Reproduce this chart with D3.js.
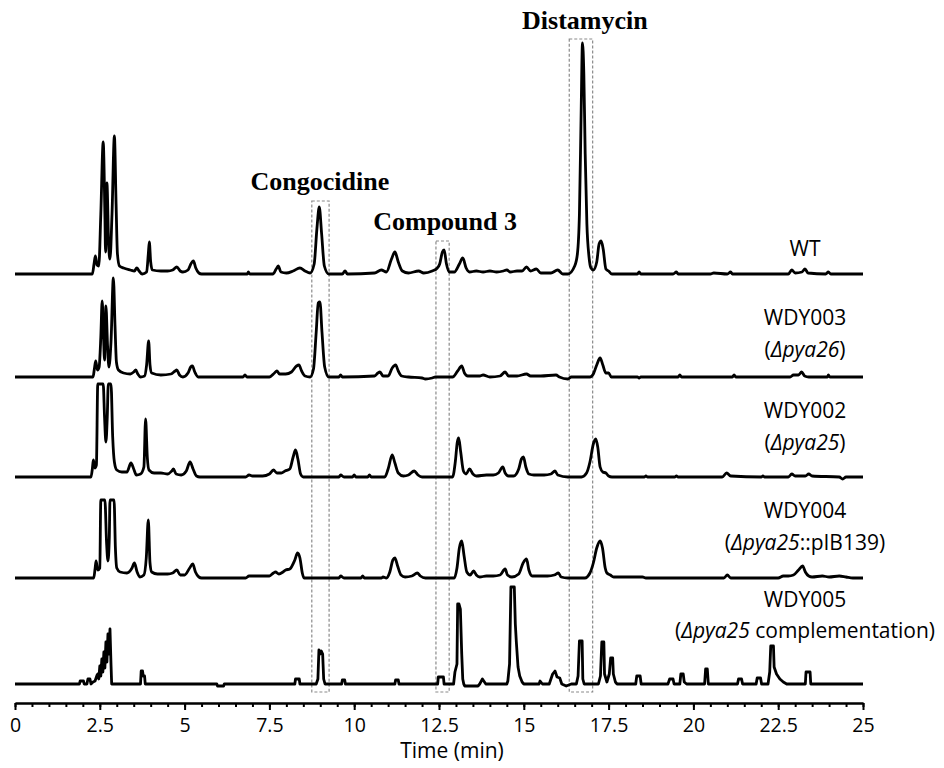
<!DOCTYPE html>
<html>
<head>
<meta charset="utf-8">
<script src="https://cdn.jsdelivr.net/npm/d3@7/dist/d3.min.js"></script>
<style>
  body { margin: 0; background: #fff; }
</style>
</head>
<body>
<script>

// ---- data ----

// time axis (min)
var xTickValues = [0, 2.5, 5, 7.5, 10, 12.5, 15, 17.5, 20, 22.5, 25];
var xTickLabels = ["0", "2.5", "5", "7.5", "10", "12.5", "15", "17.5", "20", "22.5", "25"];
var xMinorStep = 0.5;

// strain names, second line is [text, italic] parts
var traceNames = ["WT", "WDY003", "WDY002", "WDY004", "WDY005"];
var traceNotes = [
  [],
  [["(", false], ["\u0394pya26", true], [")", false]],
  [["(", false], ["\u0394pya25", true], [")", false]],
  [["(", false], ["\u0394pya25", true], ["::pIB139)", false]],
  [["(", false], ["\u0394pya25", true], [" complementation)", false]]
];

// [time (min), intensity (a.u.)]
var wtTrace = [[0,0],[2.28,0],[2.33,10],[2.37,18],[2.42,9],[2.47,8],[2.53,60],[2.60,132],[2.65,60],[2.67,22],[2.71,91],
  [2.76,30],[2.80,15],[2.86,60],[2.93,138],[2.98,70],[3.02,20],[3.08,8],[3.2,6],[3.4,4],[3.52,3],[3.59,6],[3.66,3],[3.75,0],
  [3.88,2],[3.93,20],[3.96,32],[4.0,12],[4.05,4],[4.3,3],[4.5,3],[4.65,4],[4.77,7],[4.87,3],[4.95,2],[5.1,4],[5.2,11],[5.26,13],
  [5.33,6],[5.42,1],[5.5,0],[6.85,0],[6.88,2],[6.92,0],[7.6,0],[7.7,5],[7.76,8],[7.84,2],[8.0,1],[8.2,3],[8.4,6],[8.55,3],[8.7,1],
  [8.82,10],[8.9,45],[8.97,67],[9.04,40],[9.12,8],[9.25,0],[9.65,0],[9.73,3],[9.8,0],[10.6,1],[10.8,4],[10.95,2],[11.1,15],
  [11.2,22],[11.3,12],[11.42,3],[11.6,1],[11.9,3],[12.05,1],[12.3,3],[12.45,6],[12.52,10],[12.6,22],[12.65,24],[12.72,10],
  [12.8,2],[12.95,2],[13.1,10],[13.2,16],[13.3,6],[13.4,2],[13.6,3],[13.8,2],[14.0,3],[14.2,2],[14.4,3],[14.5,4],[14.6,2],
  [14.8,3],[14.95,3],[15.08,7],[15.2,3],[15.37,5],[15.5,1],[15.8,1],[16.0,4],[16.15,0],[16.3,0],[16.5,8],[16.58,20],[16.64,60],
  [16.69,160],[16.73,231],[16.77,200],[16.81,120],[16.86,50],[16.92,18],[16.98,6],[17.05,4],[17.15,12],[17.22,30],[17.28,33],
  [17.34,25],[17.42,5],[17.5,3],[17.6,0],[18.35,0],[18.4,2],[18.45,0],[19.4,0],[19.5,2],[19.55,0],[20.5,0],[20.6,1],[21.0,0],
  [21.1,2],[21.15,0],[22.8,0],[22.9,4],[23.0,1],[23.2,2],[23.29,5],[23.38,1],[23.9,0],[23.98,2],[24.05,0],[25,0]];

var wdy003Trace = [[0,0],[2.30,0],[2.34,8],[2.38,16],[2.43,7],[2.48,10],[2.53,40],[2.57,76],[2.61,40],[2.64,17],[2.68,71],
  [2.73,30],[2.77,10],[2.83,35],[2.90,99],[2.95,50],[2.99,15],[3.05,7],[3.2,4],[3.4,3],[3.5,5],[3.56,7],[3.62,3],[3.7,0],
  [3.82,1],[3.88,12],[3.94,36],[3.98,12],[4.03,4],[4.3,2],[4.6,3],[4.72,6],[4.77,7],[4.85,2],[4.95,0],[5.1,4],[5.18,10],
  [5.23,11],[5.3,5],[5.4,0],[6.72,0],[6.78,2],[6.84,0],[7.5,0],[7.65,4],[7.72,6],[7.8,3],[7.98,3],[8.15,5],[8.3,11],[8.37,12],
  [8.45,6],[8.55,1],[8.7,0],[8.8,8],[8.88,45],[8.94,74],[8.99,75],[9.05,45],[9.13,10],[9.25,0],[9.55,0],[9.6,2],[9.65,0],
  [10.6,1],[10.7,4],[10.76,5],[10.85,1],[11.0,1],[11.12,9],[11.22,12],[11.3,6],[11.4,1],[11.6,0],[12.0,-1],[12.1,-2],[12.3,-1],
  [12.4,0],[12.9,0],[13.05,6],[13.17,11],[13.25,4],[13.35,1],[13.7,1],[13.8,2],[14.0,0],[14.3,1],[14.45,5],[14.55,1],[14.8,1],
  [15.08,3],[15.2,1],[15.5,1],[15.95,2],[16.05,0],[16.3,-2],[16.4,0],[16.95,0],[17.05,3],[17.15,12],[17.25,19],[17.33,12],
  [17.42,4],[17.5,4],[17.58,0],[18.35,0],[18.4,-1],[18.45,0],[19.55,0],[19.6,2],[19.65,0],[21.15,0],[21.2,2],[21.25,0],
  [22.85,0],[22.95,2],[23.1,2],[23.19,5],[23.28,1],[23.4,0],[23.95,0],[23.98,2],[24.02,0],[25,0]];

var wdy002Trace = [[0,0],[2.24,0],[2.28,8],[2.31,17],[2.36,9],[2.40,12],[2.44,93],[2.60,93],[2.64,60],[2.68,35],[2.72,60],
  [2.75,93],[2.83,93],[2.88,40],[2.93,15],[3.0,7],[3.15,5],[3.3,5],[3.42,14],[3.5,8],[3.58,2],[3.7,3],[3.8,10],[3.85,58],
  [3.9,20],[3.95,7],[4.1,4],[4.3,4],[4.5,3],[4.62,6],[4.67,8],[4.75,3],[4.9,2],[5.05,6],[5.16,15],[5.25,8],[5.35,1],[5.45,0],
  [6.8,0],[6.9,2],[7.0,1],[7.3,1],[7.5,3],[7.62,7],[7.72,4],[7.85,4],[7.96,6],[8.1,8],[8.2,20],[8.27,27],[8.34,18],[8.42,3],
  [8.5,0],[9.55,0],[9.6,2],[9.7,0],[9.95,0],[10.0,2],[10.05,0],[10.4,0],[10.45,2],[10.5,0],[10.9,0],[11.0,8],[11.12,22],
  [11.2,14],[11.3,4],[11.45,1],[11.6,2],[11.77,6],[11.88,2],[12.0,0],[12.9,0],[12.98,15],[13.04,35],[13.08,39],[13.14,25],
  [13.22,6],[13.3,3],[13.4,8],[13.5,3],[13.6,1],[13.9,2],[14.1,2],[14.25,4],[14.38,10],[14.45,4],[14.55,1],[14.7,1],[14.85,8],
  [14.93,18],[14.99,20],[15.06,10],[15.15,3],[15.3,2],[15.6,2],[15.8,3],[15.92,6],[16.0,2],[16.3,0],[16.7,0],[16.85,4],
  [16.95,15],[17.05,33],[17.12,38],[17.18,30],[17.25,10],[17.33,5],[17.42,4],[17.5,1],[17.6,0],[18.55,0],[18.6,1],[18.65,0],
  [19.45,0],[19.5,1],[19.55,0],[20.85,0],[20.98,4],[21.1,1],[22.0,0],[22.05,1],[22.1,0],[22.8,0],[22.9,3],[23.0,1],[23.3,1],
  [23.4,3],[23.5,1],[24.3,0],[24.4,-2],[24.5,0],[25,0]];

var wdy004Trace = [[0,0],[2.32,0],[2.36,9],[2.39,17],[2.44,8],[2.50,10],[2.53,78],[2.65,78],[2.70,35],[2.74,17],[2.78,40],
  [2.80,78],[2.92,78],[2.96,30],[3.0,10],[3.1,6],[3.3,5],[3.45,10],[3.52,15],[3.6,6],[3.68,1],[3.8,3],[3.87,20],[3.93,58],
  [3.98,15],[4.03,6],[4.2,4],[4.5,4],[4.65,5],[4.77,8],[4.87,3],[5.0,3],[5.15,10],[5.24,14],[5.32,6],[5.42,1],[5.5,0],[6.8,0],
  [6.9,2],[7.3,2],[7.5,2],[7.62,5],[7.68,6],[7.78,4],[7.9,6],[7.98,8],[8.1,9],[8.25,18],[8.33,25],[8.4,20],[8.47,5],[8.52,0],
  [9.55,0],[9.6,2],[9.7,0],[10.2,0],[10.25,2],[10.3,0],[10.8,0],[10.85,1],[10.95,0],[11.05,6],[11.14,18],[11.2,20],[11.28,12],
  [11.38,3],[11.5,1],[11.7,2],[11.86,5],[11.95,2],[12.1,0],[12.95,0],[13.03,10],[13.1,30],[13.17,37],[13.24,22],[13.32,6],
  [13.42,3],[13.52,7],[13.6,3],[13.7,1],[13.9,2],[14.1,2],[14.3,3],[14.45,9],[14.52,3],[14.65,1],[14.85,4],[14.98,15],
  [15.08,19],[15.15,8],[15.25,2],[15.5,2],[15.7,2],[15.9,3],[16.02,5],[16.1,1],[16.3,0],[16.8,0],[16.95,5],[17.05,15],
  [17.15,30],[17.25,37],[17.32,30],[17.4,10],[17.45,5],[17.55,3],[17.65,1],[18.4,1],[18.5,1],[18.6,0],[20.9,0],[21.0,3],
  [21.1,0],[22.5,0],[22.65,2],[22.8,2],[22.95,3],[23.1,8],[23.22,12],[23.3,6],[23.4,2],[23.5,1],[23.8,2],[24.0,1],[24.3,2],
  [24.5,1],[24.7,0],[25,0]];

var wdy005Trace = [[0,0],[1.90,0],[1.92,3],[2.02,3],[2.04,0],[2.12,0],[2.15,5],[2.21,5],[2.24,0],[2.30,2],[2.36,3],[2.42,9],
  [2.44,10],[2.47,5],[2.50,18],[2.53,8],[2.56,25],[2.59,12],[2.62,32],[2.65,16],[2.68,42],[2.71,22],[2.74,50],[2.77,30],
  [2.80,55],[2.83,20],[2.85,0],[3.70,0],
  [3.72,13],[3.76,13],[3.78,8],[3.82,8],[3.84,0],[5.95,0],[5.97,-2],[6.15,-2],[6.17,0],[8.25,0],[8.27,5],[8.38,5],[8.40,0],
  [8.88,0],[8.93,5],[8.96,34],[9.0,30],[9.03,33],[9.07,30],[9.1,5],[9.14,0],[9.63,0],[9.65,4],[9.72,4],[9.74,0],[11.2,0],
  [11.22,4],[11.3,4],[11.32,0],[12.46,0],[12.48,7],[12.63,7],[12.65,0],[12.93,0],[12.97,12],[13.03,20],[13.05,80],[13.09,80],
  [13.13,75],[13.17,30],[13.2,5],[13.23,0],[13.26,-2],[13.65,-2],[13.7,0],[13.78,5],[13.82,3],[13.88,0],[14.5,0],[14.53,3],
  [14.58,20],[14.62,97],[14.72,97],[14.75,60],[14.78,42],[14.83,17],[14.88,8],[14.95,2],[15.0,0],[15.45,0],[15.48,3],[15.55,0],
  [15.75,0],[15.85,10],[15.92,13],[15.98,7],[16.06,6],[16.12,0],[16.25,-2],[16.4,0],[16.55,0],[16.6,8],[16.64,43],[16.72,43],
  [16.74,5],[16.78,0],[17.2,0],[17.26,8],[17.3,42],[17.36,42],[17.38,10],[17.45,2],[17.52,10],[17.56,26],[17.62,26],[17.64,10],
  [17.7,2],[17.75,0],[18.3,0],[18.33,8],[18.43,8],[18.46,0],[19.25,0],[19.3,5],[19.4,5],[19.43,0],[19.6,0],[19.63,10],[19.7,10],
  [19.73,2],[19.8,0],[20.33,0],[20.36,15],[20.41,15],[20.44,0],[21.3,0],[21.33,5],[21.42,5],[21.45,0],[21.85,0],[21.88,6],
  [21.98,6],[22.01,0],[22.2,0],[22.25,12],[22.28,38],[22.36,38],[22.38,17],[22.45,10],[22.55,5],[22.65,2],[22.75,0],[23.3,0],
  [23.32,12],[23.44,12],[23.46,0],[25,0]];

var traces = [wtTrace, wdy003Trace, wdy002Trace, wdy004Trace, wdy005Trace];

// highlighted compounds: time window (min) and box top (intensity above the WT baseline)
var peakNames = ["Congocidine", "Compound 3", "Distamycin"];
var peakStart = [8.75, 12.41, 16.34];
var peakEnd = [9.26, 12.80, 17.03];
var peakBoxTop = [73, 33, 235];
var peakLabelTime = [8.99, 12.68, 16.8];

// ---- layout ----
var w = 944, h = 768;
var axisY = 703;
var traceBase = [274, 377, 477, 578, 684];   // pixel baseline of each stacked trace
var boxBottom = 692;
var labelX = 805;
var nameY = [256, 325, 418, 518, 607];
var noteY = [0, 357, 450, 550, 638];
var peakLabelY = [190, 230, 29];

var sansFont = "'Open Sans', 'DejaVu Sans', sans-serif";
var serifFont = "'Liberation Serif', 'DejaVu Serif', serif";

var x = d3.scaleLinear().domain([0, 25]).range([15, 863]);
// intensity -> pixel height (same for every trace)
var yInt = d3.scaleLinear().domain([0, 240]).range([0, 240]);

var svg = d3.select("body").append("svg")
      .attr("width", w).attr("height", h)
      .style("display", "block");

svg.append("rect").attr("x", 0).attr("y", 0).attr("width", w).attr("height", h).style("fill", "#fff");

// dashed boxes round the compounds (behind the traces)
svg.selectAll("rect.peakbox")
    .data(peakNames)
    .enter().append("rect")
    .attr("class", "peakbox")
    .attr("x", function(d, i){ return x(peakStart[i]); })
    .attr("y", function(d, i){ return traceBase[0] - yInt(peakBoxTop[i]); })
    .attr("width", function(d, i){ return x(peakEnd[i]) - x(peakStart[i]); })
    .attr("height", function(d, i){ return boxBottom - (traceBase[0] - yInt(peakBoxTop[i])); })
    .style("fill", "none")
    .style("stroke", "#8a8a8a")
    .style("stroke-width", 1.2)
    .style("stroke-dasharray", "3,2");

// the chromatograms
traces.forEach(function(tr, i){
  var line = d3.line()
      .x(function(d){ return x(d[0]); })
      .y(function(d){ return traceBase[i] - yInt(d[1]); })
      .curve(i == 4 ? d3.curveLinear : d3.curveMonotoneX);

  svg.append("path")
      .datum(tr)
      .attr("d", line)
      .style("fill", "none")
      .style("stroke", "#000")
      .style("stroke-width", 2.8)
      .style("stroke-linejoin", "round");
});

// compound labels
svg.selectAll("text.peaklabel")
    .data(peakNames)
    .enter().append("text")
    .attr("class", "peaklabel")
    .attr("x", function(d, i){ return x(peakLabelTime[i]); })
    .attr("y", function(d, i){ return peakLabelY[i]; })
    .attr("text-anchor", "middle")
    .attr("font-family", serifFont)
    .attr("font-weight", "bold")
    .attr("font-size", 26)
    .attr("fill", "#000")
    .text(function(d){ return d; });

// strain labels
traceNames.forEach(function(name, i){
  svg.append("text")
      .attr("x", labelX).attr("y", nameY[i])
      .attr("text-anchor", "middle")
      .attr("font-family", sansFont)
      .attr("font-size", 21)
      .attr("fill", "#000")
      .text(name);

  if (traceNotes[i].length > 0){
    var note = svg.append("text")
        .attr("x", labelX).attr("y", noteY[i])
        .attr("text-anchor", "middle")
        .attr("font-family", sansFont)
        .attr("font-size", 21)
        .attr("fill", "#000");
    traceNotes[i].forEach(function(part){
      note.append("tspan")
          .style("font-style", part[1] ? "italic" : "normal")
          .text(part[0]);
    });
  }
});

// x axis: minor ticks first, then the labelled major ticks
var minorTicks = d3.range(0, 25 + 0.001, xMinorStep);

svg.append("g")
    .attr("class", "minor")
    .attr("transform", "translate(0," + axisY + ")")
    .call(d3.axisBottom(x).tickValues(minorTicks).tickSize(4).tickSizeOuter(0).tickFormat(""));

var xAxis = svg.append("g")
    .attr("class", "major")
    .attr("transform", "translate(0," + axisY + ")")
    .call(d3.axisBottom(x)
      .tickValues(xTickValues)
      .tickSize(7)
      .tickSizeOuter(0)
      .tickPadding(8)
      .tickFormat(function(d, i){ return xTickLabels[i]; }));

svg.selectAll(".minor path, .minor line, .major path, .major line")
    .style("stroke", "#000")
    .style("stroke-width", 2);

xAxis.selectAll("text")
    .attr("font-family", sansFont)
    .attr("font-size", 19.5)
    .attr("fill", "#000");

svg.append("text")
    .attr("x", 452).attr("y", 758)
    .attr("text-anchor", "middle")
    .attr("font-family", sansFont)
    .attr("font-size", 21)
    .attr("fill", "#000")
    .text("Time (min)");

</script>
</body>
</html>
